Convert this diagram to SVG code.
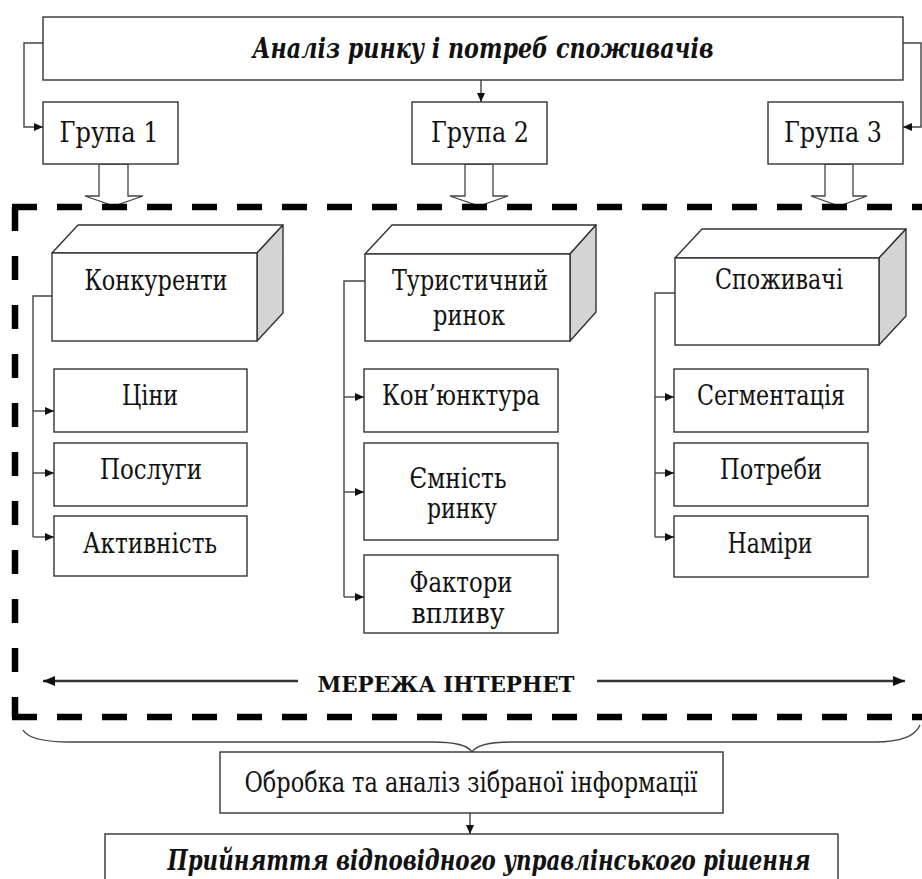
<svg xmlns="http://www.w3.org/2000/svg" width="922" height="879" viewBox="0 0 922 879">
<style>
text{font-family:"DejaVu Serif Condensed","DejaVu Serif","Liberation Serif",serif;font-stretch:condensed;fill:#111;text-anchor:middle}
.t{font-size:27px}
.bi{font-size:27px;font-weight:bold;font-style:italic}
.b{font-size:22px;font-weight:bold}
.box{fill:#fff;stroke:#333;stroke-width:1.4}
.side{fill:#d4d4d4;stroke:#333;stroke-width:1.4;stroke-linejoin:round}
.top{fill:#fff;stroke:#333;stroke-width:1.4;stroke-linejoin:round}
.ln{fill:none;stroke:#444;stroke-width:1.4}
.ar{fill:none;stroke:#444;stroke-width:1.4;marker-end:url(#a)}
.blk{fill:#fff;stroke:#444;stroke-width:1.3}
.dash{fill:none;stroke:#000;stroke-width:6.5}
.net{fill:none;stroke:#333;stroke-width:2.6;marker-end:url(#b)}
</style>
<defs>
<marker id="a" markerUnits="userSpaceOnUse" markerWidth="9" markerHeight="8" refX="9" refY="4" orient="auto"><path d="M0,0 L9,4 L0,8 z" fill="#111"/></marker>
<marker id="b" markerUnits="userSpaceOnUse" markerWidth="12" markerHeight="10" refX="12" refY="5" orient="auto"><path d="M0,0 L12,5 L0,10 z" fill="#111"/></marker>
</defs>

<g id="block-arrows">
<polygon class="blk" points="99,164 128,164 128,196 143,196 114,206 85,196 99,196"/>
<polygon class="blk" points="465,164 493,164 493,196 508,196 479,206 450,196 465,196"/>
<polygon class="blk" points="825,164 853,164 853,196 867,196 839,206 811,196 825,196"/>
</g>

<g id="internet-frame">
<path class="dash" d="M12 207 H930" stroke-dasharray="25 20"/>
<path class="dash" d="M12 717 H930" stroke-dasharray="25 20"/>
<path class="dash" d="M15 207 V717" stroke-dasharray="24 25"/>
</g>

<g id="connectors">
<path class="ar" d="M43 43 H24 V127 H43"/>
<path class="ar" d="M903 43 H921 V127 H903"/>
<path class="ar" d="M481 80 V102"/>
<path class="ln" d="M52 296 H33 V537"/>
<path class="ar" d="M33 411 H54"/>
<path class="ar" d="M33 473 H54"/>
<path class="ar" d="M33 537 H54"/>
<path class="ln" d="M365 281 H344 V597"/>
<path class="ar" d="M344 397 H364"/>
<path class="ar" d="M344 492 H364"/>
<path class="ar" d="M344 597 H364"/>
<path class="ln" d="M675 293 H655 V537"/>
<path class="ar" d="M655 397 H674"/>
<path class="ar" d="M655 473 H674"/>
<path class="ar" d="M655 537 H674"/>
<path class="net" d="M298 681 H43"/>
<path class="net" d="M597 681 H905"/>
<path class="ln" d="M23 730 Q 30 742 70 742 H 432 Q 466 742 472 752 Q 478 742 512 742 H 875 Q 913 742 920 725"/>
<path class="ar" d="M470 813 V834"/>
</g>

<g id="analysis">
<rect class="box" x="43" y="17" width="860" height="63"/>
<text class="bi" x="483" y="58" textLength="461" lengthAdjust="spacingAndGlyphs">Аналіз ринку і потреб споживачів</text>
</g>
<g id="group1">
<rect class="box" x="43" y="102" width="135" height="62"/>
<text class="t" x="109" y="142" textLength="99" lengthAdjust="spacingAndGlyphs">Група 1</text>
</g>
<g id="group2">
<rect class="box" x="412" y="102" width="135" height="62"/>
<text class="t" x="480" y="142" textLength="98" lengthAdjust="spacingAndGlyphs">Група 2</text>
</g>
<g id="group3">
<rect class="box" x="768" y="102" width="135" height="62"/>
<text class="t" x="833" y="142" textLength="98" lengthAdjust="spacingAndGlyphs">Група 3</text>
</g>

<g id="competitors">
<polygon class="top" points="52,253 78,225 283,225 257,253"/>
<polygon class="side" points="257,253 283,225 283,313 257,341"/>
<rect class="box" x="52" y="253" width="205" height="88"/>
<text class="t" x="156" y="290" textLength="143" lengthAdjust="spacingAndGlyphs">Конкуренти</text>
</g>
<g id="tourism-market">
<polygon class="top" points="365,254 392,225 596,225 570,254"/>
<polygon class="side" points="570,254 596,225 596,312 570,341"/>
<rect class="box" x="365" y="254" width="205" height="87"/>
<text class="t" x="470" y="290" textLength="156" lengthAdjust="spacingAndGlyphs">Туристичний</text>
<text class="t" x="469" y="325" textLength="72" lengthAdjust="spacingAndGlyphs">ринок</text>
</g>
<g id="consumers">
<polygon class="top" points="675,258 702,229 906,229 879,258"/>
<polygon class="side" points="879,258 906,229 906,316 879,345"/>
<rect class="box" x="675" y="258" width="204" height="87"/>
<text class="t" x="779" y="289" textLength="128" lengthAdjust="spacingAndGlyphs">Споживачі</text>
</g>

<g id="prices"><rect class="box" x="54" y="369" width="193" height="63"/><text class="t" x="150" y="405" textLength="56" lengthAdjust="spacingAndGlyphs">Ціни</text></g>
<g id="services"><rect class="box" x="54" y="443" width="193" height="63"/><text class="t" x="151" y="479" textLength="102" lengthAdjust="spacingAndGlyphs">Послуги</text></g>
<g id="activity"><rect class="box" x="54" y="516" width="193" height="60"/><text class="t" x="150" y="553" textLength="134" lengthAdjust="spacingAndGlyphs">Активність</text></g>

<g id="conjuncture"><rect class="box" x="364" y="369" width="194" height="63"/><text class="t" x="461" y="405" textLength="158" lengthAdjust="spacingAndGlyphs">Кон’юнктура</text></g>
<g id="capacity"><rect class="box" x="364" y="443" width="194" height="97"/><text class="t" x="458" y="488" textLength="97" lengthAdjust="spacingAndGlyphs">Ємність</text><text class="t" x="462" y="518" textLength="70" lengthAdjust="spacingAndGlyphs">ринку</text></g>
<g id="factors"><rect class="box" x="364" y="555" width="194" height="78"/><text class="t" x="461" y="592" textLength="103" lengthAdjust="spacingAndGlyphs">Фактори</text><text class="t" x="458" y="623" textLength="93" lengthAdjust="spacingAndGlyphs">впливу</text></g>

<g id="segmentation"><rect class="box" x="674" y="369" width="194" height="63"/><text class="t" x="771" y="405" textLength="148" lengthAdjust="spacingAndGlyphs">Сегментація</text></g>
<g id="needs"><rect class="box" x="674" y="443" width="194" height="63"/><text class="t" x="771" y="479" textLength="102" lengthAdjust="spacingAndGlyphs">Потреби</text></g>
<g id="intentions"><rect class="box" x="674" y="516" width="194" height="61"/><text class="t" x="770" y="553" textLength="85" lengthAdjust="spacingAndGlyphs">Наміри</text></g>

<g id="internet-label"><text class="b" x="446" y="692" textLength="257" lengthAdjust="spacingAndGlyphs">МЕРЕЖА ІНТЕРНЕТ</text></g>

<g id="processing">
<rect class="box" x="220" y="752" width="503" height="61"/>
<text class="t" x="471" y="792" textLength="453" lengthAdjust="spacingAndGlyphs">Обробка та аналіз зібраної інформації</text>
</g>
<g id="decision">
<rect class="box" x="105" y="834" width="733" height="60"/>
<text class="bi" x="489" y="870" textLength="643" lengthAdjust="spacingAndGlyphs">Прийняття відповідного управлінського рішення</text>
</g>
</svg>
